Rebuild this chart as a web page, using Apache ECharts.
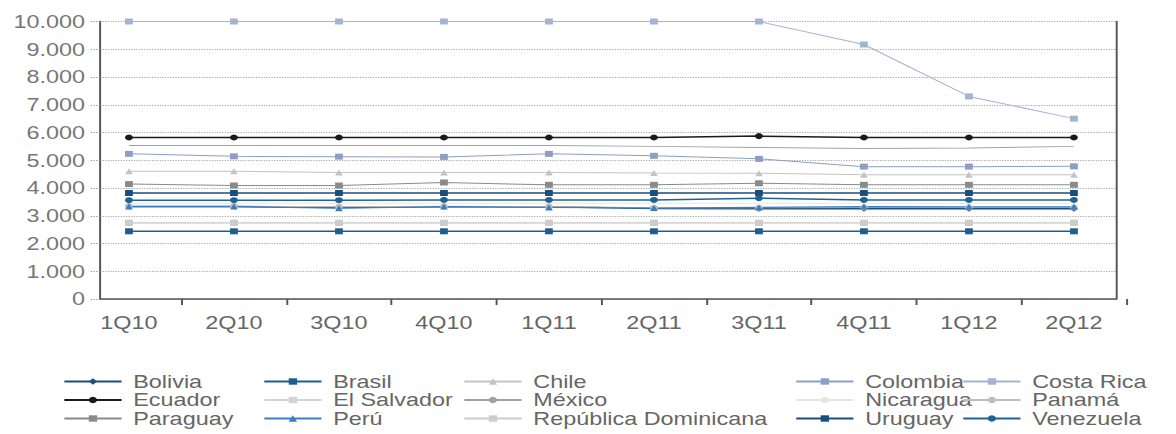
<!DOCTYPE html>
<html><head><meta charset="utf-8">
<script src="https://cdn.jsdelivr.net/npm/echarts@6/dist/echarts.min.js"></script>
<style>
html,body{margin:0;padding:0;background:#fff;}
#wrap{width:1176px;height:434px;overflow:hidden;position:relative;}
#chart{width:905px;height:434px;transform:scaleX(1.3);transform-origin:0 0;}
</style></head>
<body><div id="wrap"><div id="chart"></div></div>
<script>
const categories = ['1Q10','2Q10','3Q10','4Q10','1Q11','2Q11','3Q11','4Q11','1Q12','2Q12'];
const yTicks = [0,1000,2000,3000,4000,5000,6000,7000,8000,9000,10000];
const bolivia    = [3330,3330,3300,3320,3320,3260,3250,3250,3250,3250];
const brasil     = [2440,2440,2440,2440,2440,2440,2440,2440,2440,2440];
const chile      = [4600,4600,4560,4560,4560,4540,4530,4480,4480,4480];
const colombia   = [5230,5140,5130,5120,5230,5160,5050,4770,4770,4780];
const costaRica  = [10000,10000,10000,10000,10000,10000,10000,9170,7300,6500];
const ecuador    = [5820,5820,5820,5820,5820,5820,5870,5820,5820,5820];
const elSalvador = [2750,2750,2750,2750,2750,2750,2750,2750,2750,2750];
const mexico     = [5530,5530,5530,5530,5530,5500,5460,5420,5440,5500];
const nicaragua  = [3450,3450,3450,3450,3450,3450,3450,3450,3450,3450];
const panama     = [3350,3350,3320,3340,3330,3290,3290,3300,3300,3300];
const paraguay   = [4140,4090,4090,4200,4115,4115,4170,4115,4115,4115];
const peru       = [3330,3330,3270,3330,3300,3280,3300,3330,3320,3320];
const repDom     = [2740,2740,2740,2740,2740,2740,2740,2740,2740,2740];
const uruguay    = [3820,3820,3820,3820,3820,3820,3820,3820,3820,3820];
const venezuela  = [3560,3560,3560,3570,3570,3570,3630,3570,3570,3570];

const seriesDefs = [
  {name:'Bolivia', data:bolivia, color:'#1f4e7a', symbol:'diamond', w:1.5},
  {name:'Brasil', data:brasil, color:'#1d5f8c', symbol:'rect', w:1.5},
  {name:'Chile', data:chile, color:'#c4c4c4', symbol:'triangle', w:1},
  {name:'Colombia', data:colombia, color:'#8d9ec4', symbol:'rect', w:1},
  {name:'Costa Rica', data:costaRica, color:'#a3b4d3', symbol:'rect', w:1},
  {name:'Ecuador', data:ecuador, color:'#1a1a1a', symbol:'circle', w:1.5},
  {name:'El Salvador', data:elSalvador, color:'#d3d3d3', symbol:'rect', w:1},
  {name:'México', data:mexico, color:'#a0a0a0', symbol:'none', w:1},
  {name:'Nicaragua', data:nicaragua, color:'#e6e6e6', symbol:'none', w:1},
  {name:'Panamá', data:panama, color:'#bdbdbd', symbol:'circle', w:1},
  {name:'Paraguay', data:paraguay, color:'#8a8a8a', symbol:'rect', w:1},
  {name:'Perú', data:peru, color:'#3f7cbf', symbol:'triangle', w:1.2},
  {name:'República Dominicana', data:repDom, color:'#cccccc', symbol:'rect', w:1},
  {name:'Uruguay', data:uruguay, color:'#184f7f', symbol:'rect', w:1.5},
  {name:'Venezuela', data:venezuela, color:'#1f6394', symbol:'circle', w:1.5}
];

const FONT = 'Liberation Sans';
const chart = echarts.init(document.getElementById('chart'), null, {renderer:'svg', width:905, height:434});

const legendCols = [
  {left:48.5, names:['Bolivia','Ecuador','Paraguay']},
  {left:202.3, names:['Brasil','El Salvador','Perú']},
  {left:356.2, names:['Chile','México','República Dominicana']},
  {left:611.5, names:['Colombia','Nicaragua','Uruguay']},
  {left:740, names:['Costa Rica','Panamá','Venezuela']}
];

const option = {
  animation:false,
  backgroundColor:'#fff',
  grid:[
    {left:76.9, right:46.5, top:21.5, bottom:135},
    {left:58.8, right:38.5, top:21.5, bottom:135}
  ],
  xAxis:[
    {gridIndex:0, type:'value', min:0, max:1, axisLine:{show:true, lineStyle:{color:'#555', width:1.5}},
     axisTick:{show:false}, axisLabel:{show:false}, splitLine:{show:false}},
    {gridIndex:1, type:'category', data:categories, boundaryGap:true,
     axisLine:{show:false},
     axisTick:{show:true, length:6, interval:function(i){return i!==0;}, lineStyle:{color:'#555', width:1.5}},
     axisLabel:{margin:15, fontFamily:FONT, fontSize:18, color:'#666'},
     splitLine:{show:false}}
  ],
  yAxis:[
    {gridIndex:0, type:'value', min:0, max:10000, interval:1000,
     axisLine:{show:true, lineStyle:{color:'#555', width:1.5}},
     axisTick:{show:true, length:8, lineStyle:{color:'#999', type:'dotted'}},
     axisLabel:{margin:11.5, fontFamily:FONT, fontSize:18, color:'#777',
       formatter:function(v){return v===0?'0':String(v).replace(/\B(?=(\d{3})+(?!\d))/g,'.');}},
     splitLine:{show:true, lineStyle:{color:'#aaa', type:'dotted', width:1}}},
    {gridIndex:0, type:'value', min:0, max:10000, position:'right',
     axisLine:{show:true, lineStyle:{color:'#555', width:1.5}},
     axisTick:{show:false}, axisLabel:{show:false}, splitLine:{show:false}},
    {gridIndex:1, type:'value', min:0, max:10000, show:false, splitLine:{show:false}}
  ],
  legend: legendCols.map(c => ({
    orient:'vertical', left:c.left, top:372.5, height:60, padding:0,
    itemWidth:44, itemHeight:8, itemGap:0.5,
    data:c.names, selectedMode:false,
    textStyle:{fontFamily:FONT, fontSize:18, color:'#666', lineHeight:17, padding:[0,0,0,4]}
  })),
  series: seriesDefs.map(s => ({
    name:s.name, type:'line', xAxisIndex:1, yAxisIndex:2, data:s.data,
    symbol:s.symbol, symbolSize:s.symbol==='none'?0:6, showSymbol:s.symbol!=='none',
    lineStyle:{color:s.color, width:s.w}, itemStyle:{color:s.color},
    emphasis:{disabled:true}
  }))
};
chart.setOption(option);
</script></body></html>
